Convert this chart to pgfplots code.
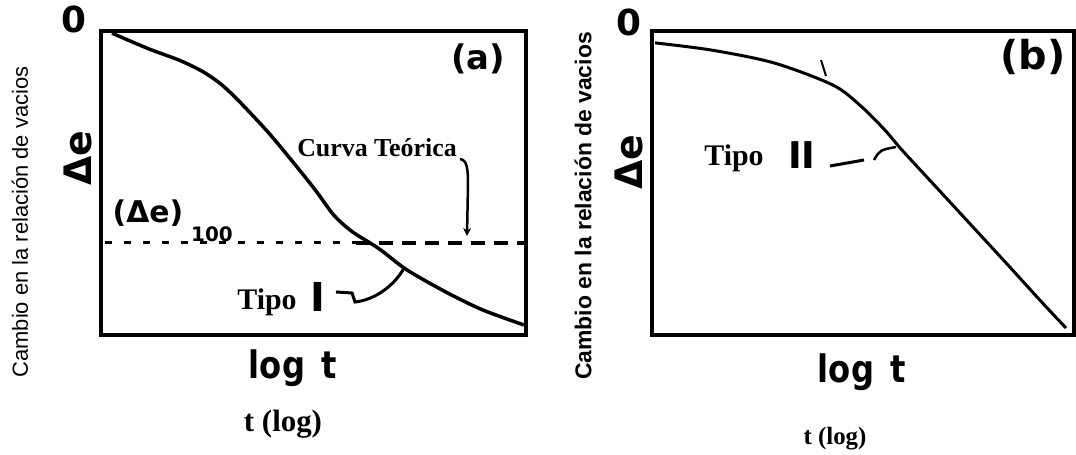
\documentclass[border=0pt]{standalone}
\usepackage{pgfplots}
\pgfplotsset{compat=1.18}
\usetikzlibrary{arrows.meta}
\usepackage{fontspec}
\setmainfont{Liberation Serif}
\newfontfamily\arial{Liberation Sans}
\newfontfamily\hand{DejaVu Sans}

\pgfplotsset{panel/.style={
  scale only axis, height=304bp,
  xmin=0, xmax=100, ymin=0, ymax=100, y dir=reverse,
  xtick=\empty, ytick=\empty,
  axis line style={line width=4bp, line cap=rect},
  anchor=south west, clip=false}}

\begin{document}
\begin{tikzpicture}
\path[use as bounding box] (0,0) rectangle (1076bp,455bp);

% Panel (a)
\begin{axis}[panel, width=425bp, at={(101bp,120bp)}]
\addplot[line width=3.5bp, smooth, tension=0.5] coordinates {
(2.6,0.7)(11.1,5.8)(18.4,9.6)(24.0,13.4)(28.5,17.8)(32.9,23.7)(39.5,33.6)
(46.1,44.7)(50.8,53.0)(54.8,60.6)(59.1,66.0)(65.4,71.6)(72.0,78.6)
(81.6,86.2)(89.9,91.8)(99.5,96.7)};
\addplot[line width=3bp, dash pattern=on 7bp off 12bp] coordinates {(1,69.7)(60,69.7)};
\addplot[line width=3.5bp, dash pattern=on 14bp off 9bp] coordinates {(60,69.7)(100,69.7)};
\end{axis}

% Panel (b)
\begin{axis}[panel, width=422bp, at={(652bp,120bp)}]
\addplot[line width=3bp, smooth, tension=0.5] coordinates {
(0.7,3.9)(14.2,6.3)(28.9,10.5)(42.9,17.8)(49.5,24.7)(55.2,32.6)(59.2,39.1)
(67.5,51.6)(75.6,63.8)(83.9,76.3)(91.9,88.5)(98.1,97.7)};
\end{axis}

\begin{scope}[shift={(0,455bp)}, x=1bp, y=-1bp]
% y labels
\node[font=\arial\fontsize{22}{26}\selectfont, rotate=90] at (20,222) {Cambio en la relación de vacios};
\node[font=\arial\bfseries\fontsize{23}{27}\selectfont, rotate=90] at (583,206) {Cambio en la relación de vacios};
% handwritten marks (a)
\node[font=\hand\bfseries\fontsize{36}{40}\selectfont] at (74,19) {0};
\node[font=\hand\bfseries\fontsize{34}{38}\selectfont] at (478,59) {(a)};
\node[font=\hand\bfseries\fontsize{38}{42}\selectfont, rotate=90] at (78,158) {Δe};
\node[font=\hand\bfseries\fontsize{30}{36}\selectfont] at (148,213) {(Δe)};
\node[font=\hand\bfseries\fontsize{20}{24}\selectfont] at (212,234) {100};
\node[font=\hand\bfseries\fontsize{38}{42}\selectfont, xscale=0.85] at (293,368) {log\, t};
\node[font=\hand\bfseries\fontsize{40}{44}\selectfont] at (318,297) {I};
% handwritten marks (b)
\node[font=\hand\bfseries\fontsize{36}{40}\selectfont] at (629,22) {0};
\node[font=\hand\bfseries\fontsize{40}{44}\selectfont] at (1033,57) {(b)};
\node[font=\hand\bfseries\fontsize{38}{42}\selectfont, rotate=90] at (629,162) {Δe};
\node[font=\hand\bfseries\fontsize{38}{42}\selectfont, xscale=0.85] at (862,372) {log\, t};
\node[font=\hand\bfseries\fontsize{37}{41}\selectfont] at (802,155) {II};
% typed labels
\node[font=\bfseries\fontsize{26}{30}\selectfont] at (377,148) {Curva Teórica};
\node[font=\bfseries\fontsize{30}{34}\selectfont] at (267,302) {Tipo};
\node[font=\bfseries\fontsize{30}{34}\selectfont] at (734,158) {Tipo};
\node[font=\bfseries\fontsize{31}{35}\selectfont] at (283,424) {t (log)};
\node[font=\bfseries\fontsize{25}{29}\selectfont] at (835,439) {t (log)};
% arrows
\draw[line width=2.5bp, -{Stealth[length=8bp,width=8bp]}] (460,159) .. controls (467,160) and (468,168) .. (468,185) -- (467,236);
\draw[line width=3bp] (336,292) -- (352,293) -- (355,302) .. controls (375,300) and (395,285) .. (404,268);
\draw[line width=3bp] (830,166) -- (864,160);
\draw[line width=2.5bp] (874,160) .. controls (880,150) .. (896,147);
\draw[line width=2bp] (821,60) -- (826,76);
\end{scope}
\end{tikzpicture}
\end{document}
